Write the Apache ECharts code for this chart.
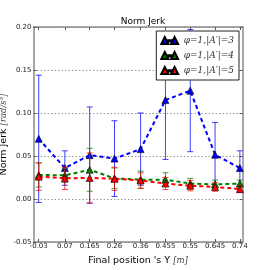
<!DOCTYPE html>
<html><head><meta charset="utf-8">
<script src="https://cdn.jsdelivr.net/npm/echarts@6/dist/echarts.min.js"></script>
<style>html,body{margin:0;padding:0;background:#fff}#c{width:270px;height:270px}</style>
</head><body><div id="c"></div>
<script>
const xValues = [-0.03, 0.07, 0.165, 0.26, 0.36, 0.455, 0.55, 0.645, 0.74];
const xTickLabels = ['-0.03', '0.07', '0.165', '0.26', '0.36', '0.455', '0.55', '0.645', '0.74'];
const blue = [0.070, 0.036, 0.051, 0.047, 0.058, 0.115, 0.126, 0.0515, 0.036];
const blueErr = [0.074, 0.020, 0.056, 0.044, 0.042, 0.069, 0.071, 0.0375, 0.020];
const green = [0.028, 0.0275, 0.034, 0.024, 0.0225, 0.0225, 0.018, 0.017, 0.018];
const greenErr = [0.014, 0.008, 0.025, 0.012, 0.010, 0.008, 0.006, 0.005, 0.004];
const red = [0.026, 0.024, 0.0245, 0.0235, 0.0215, 0.018, 0.0155, 0.014, 0.0115];
const redErr = [0.016, 0.013, 0.029, 0.0135, 0.009, 0.007, 0.006, 0.005, 0.004];
const names = ['\u03c6=1,|A\u2032|=3', '\u03c6=1,|A\u2032|=4', '\u03c6=1,|A\u2032|=5'];
const colors = ['#0000ff', '#008000', '#ff0000'];

const chart = echarts.init(document.getElementById('c'), null, {renderer: 'canvas'});
const frame = '#8a8a8a';
const font = 'DejaVu Sans';

function pts(vals) { return xValues.map((x, i) => [x, vals[i]]); }
function errPts(vals, errs) { return xValues.map((x, i) => [x, vals[i], errs[i]]); }

function errSeries(vals, errs, color, z) {
  return {
    type: 'custom', z: z, silent: true,
    xAxisIndex: 0, yAxisIndex: 0,
    data: errPts(vals, errs),
    renderItem: function (params, api) {
      const x = api.value(0), y = api.value(1), e = api.value(2);
      const t = api.coord([x, y + e]);
      const b = api.coord([x, y - e]);
      const w = 3;
      const st = {stroke: color, lineWidth: 1, opacity: 0.75};
      return {type: 'group', children: [
        {type: 'line', shape: {x1: t[0], y1: t[1], x2: b[0], y2: b[1]}, style: st},
        {type: 'line', shape: {x1: t[0] - w, y1: t[1], x2: t[0] + w, y2: t[1]}, style: st},
        {type: 'line', shape: {x1: b[0] - w, y1: b[1], x2: b[0] + w, y2: b[1]}, style: st}
      ]};
    }
  };
}
function lineSeries(name, vals, color, z) {
  return {
    type: 'line', name: name, z: z, data: pts(vals),
    xAxisIndex: 0, yAxisIndex: 0,
    symbol: 'triangle', symbolSize: 7,
    lineStyle: {color: color, width: 2, type: [4, 3]},
    itemStyle: {color: color, borderColor: '#000', borderWidth: 0.6},
    emphasis: {disabled: true}, animation: false
  };
}
const legIcon = 'path://M0,10 L5,0 L10,10 Z M10,4.5 L14,4.5 L14,6.5 L10,6.5 Z M14,10 L19,0 L24,10 Z';
const rich = {i: {fontFamily: 'DejaVu Serif', fontStyle: 'italic', fontSize: 8.5, color: '#444'}};

chart.setOption({
  animation: false,
  title: {text: 'Norm Jerk', left: 138, textAlign: 'center', top: 12,
    textStyle: {fontFamily: font, fontSize: 9, fontWeight: 'normal', color: '#000'}},
  grid: {left: 33.5, right: 27.5, top: 27, bottom: 28, containLabel: false, outerBoundsMode: 'none'},
  legend: {
    orient: 'vertical', right: 31, top: 31, padding: [5, 5, 5, 4],
    backgroundColor: '#fff', borderColor: '#222', borderWidth: 1, borderRadius: 0,
    itemWidth: 18, itemHeight: 7, itemGap: 6,
    icon: legIcon,
    data: names,
    textStyle: {fontFamily: 'DejaVu Serif', fontStyle: 'italic', fontSize: 9, color: '#333'}
  },
  xAxis: [{
    type: 'value', min: -0.05, max: 0.75, position: 'bottom',
    name: 'Final position \'s Y {i|[m]}', nameLocation: 'middle', nameGap: 14, nameMoveOverlap: false,
    nameTextStyle: {fontFamily: font, fontSize: 9.5, color: '#000', rich: rich},
    axisLine: {onZero: false, lineStyle: {color: frame, width: 1.5}},
    axisTick: {inside: true, length: 3, customValues: xValues, lineStyle: {color: '#555'}},
    axisLabel: {customValues: xValues, formatter: v => xTickLabels[xValues.findIndex(t => Math.abs(t - v) < 1e-9)] || '', fontFamily: font, fontSize: 7, color: '#222', margin: 1, hideOverlap: false},
    splitLine: {show: false}
  }, {
    type: 'value', min: -0.05, max: 0.75, position: 'top',
    axisLine: {onZero: false, lineStyle: {color: frame, width: 1.5}},
    axisTick: {inside: true, length: 3, customValues: xValues, lineStyle: {color: '#555'}},
    axisLabel: {show: false}, splitLine: {show: false}
  }],
  yAxis: [{
    type: 'value', min: -0.05, max: 0.2, interval: 0.05, position: 'left',
    name: 'Norm Jerk {i|[rad/s\u00b3]}', nameLocation: 'middle', nameGap: 25, nameMoveOverlap: false,
    nameTextStyle: {fontFamily: font, fontSize: 9.5, color: '#000', rich: rich},
    axisLine: {show: true, onZero: false, lineStyle: {color: frame, width: 1.5}},
    axisTick: {inside: true, length: 3, lineStyle: {color: '#555'}},
    axisLabel: {formatter: v => v.toFixed(2), fontFamily: font, fontSize: 7, color: '#222', margin: 2},
    splitLine: {show: true, lineStyle: {color: '#999', type: [1.5, 2], width: 1}}
  }, {
    type: 'value', min: -0.05, max: 0.2, interval: 0.05, position: 'right',
    axisLine: {show: true, onZero: false, lineStyle: {color: frame, width: 1.5}},
    axisTick: {inside: true, length: 3, lineStyle: {color: '#555'}},
    axisLabel: {show: false}, splitLine: {show: false}
  }],
  series: [
    errSeries(blue, blueErr, colors[0], 2),
    lineSeries(names[0], blue, colors[0], 3),
    errSeries(green, greenErr, colors[1], 4),
    lineSeries(names[1], green, colors[1], 5),
    errSeries(red, redErr, colors[2], 6),
    lineSeries(names[2], red, colors[2], 7)
  ]
});
</script>
</body></html>
